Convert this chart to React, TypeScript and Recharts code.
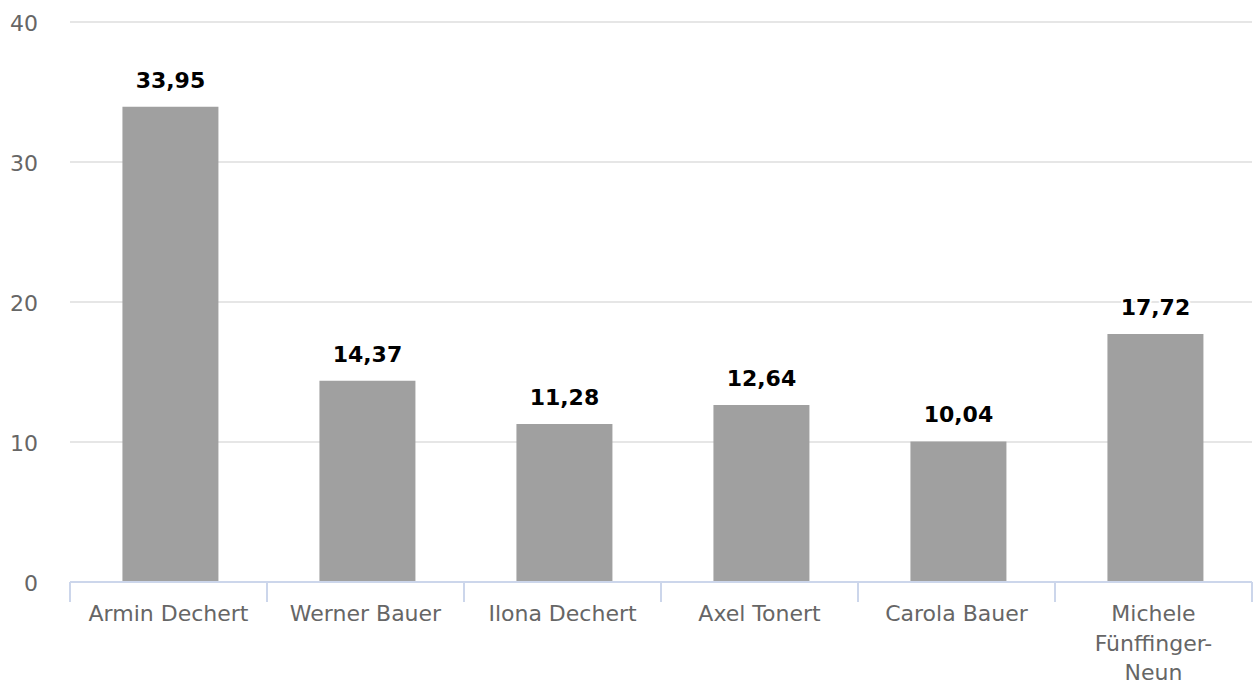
import { BarChart, Bar, XAxis, YAxis, CartesianGrid, LabelList, Rectangle } from "recharts";

const names = [
  "Armin Dechert",
  "Werner Bauer",
  "Ilona Dechert",
  "Axel Tonert",
  "Carola Bauer",
  "Michele Fünffinger-Neun",
];
const values = [33.95, 14.37, 11.28, 12.64, 10.04, 17.72];
const yTicks = [0, 10, 20, 30, 40];

const data = names.map((name, i) => ({ name, value: values[i] }));

const FONT = "'DejaVu Sans', Verdana, sans-serif";
const AXIS_COLOR = "#ccd6eb";
const BAR_NUDGE = 2; // bars sit a touch right of the band centre in the original

// break long category names on spaces and after hyphens
function wrapLabel(text: string, maxChars = 13) {
  const lines: string[] = [];
  let cur = "";
  text.split(" ").forEach((word) => {
    word.split(/(?<=-)/).forEach((piece, j) => {
      const joined = cur === "" ? piece : cur + (j === 0 ? " " : "") + piece;
      if (joined.length > maxChars && cur !== "") {
        lines.push(cur);
        cur = piece;
      } else {
        cur = joined;
      }
    });
  });
  if (cur) lines.push(cur);
  return lines;
}

const XTick = (props: any) => {
  const { x, y, payload, index, visibleTicksCount } = props;
  const half = payload?.offset ?? 98.5;
  const lines = wrapLabel(String(payload.value));
  return (
    <g>
      <line x1={x - half} x2={x - half} y1={y} y2={y + 20} stroke={AXIS_COLOR} strokeWidth={2} />
      {index === visibleTicksCount - 1 && (
        <line x1={x + half} x2={x + half} y1={y} y2={y + 20} stroke={AXIS_COLOR} strokeWidth={2} />
      )}
      <text x={x} y={y + 39} textAnchor="middle" fill="#666666" fontSize={22} fontFamily={FONT}>
        {lines.map((l, i) => (
          <tspan key={i} x={x} dy={i === 0 ? 0 : 29.5}>
            {l}
          </tspan>
        ))}
      </text>
    </g>
  );
};

const YTick = (props: any) => {
  const { x, y, payload } = props;
  return (
    <text x={x - 32} y={y + 9} textAnchor="end" fill="#666666" fontSize={22} fontFamily={FONT}>
      {payload.value}
    </text>
  );
};

const BarShape = (props: any) => <Rectangle {...props} x={props.x + BAR_NUDGE} />;

const ValueLabel = (props: any) => {
  const vb = props.viewBox ?? props;
  const x = vb.x ?? props.x;
  const y = vb.y ?? props.y;
  const width = vb.width ?? props.width;
  const text = Number(props.value).toFixed(2).replace(".", ",");
  return (
    <text
      x={x + width / 2 + BAR_NUDGE}
      y={y - 19}
      textAnchor="middle"
      fontFamily={FONT}
      fontSize={22}
      fontWeight="bold"
      fill="#000000"
      stroke="#ffffff"
      strokeWidth={4}
      strokeLinejoin="round"
      paintOrder="stroke"
    >
      {text}
    </text>
  );
};

export default function App() {
  return (
    <div style={{ width: 1253, height: 681, background: "#fff" }}>
      <style>{`body { margin: 0; }`}</style>
      <BarChart
        width={1253}
        height={681}
        data={data}
        margin={{ top: 22, right: 1, left: 0, bottom: 0 }}
        barCategoryGap="25.6%"
      >
        <CartesianGrid vertical={false} stroke="#e6e6e6" strokeWidth={2} />
        <XAxis
          dataKey="name"
          height={99}
          axisLine={{ stroke: AXIS_COLOR, strokeWidth: 2 }}
          tickLine={false}
          tickSize={0}
          tickMargin={0}
          interval={0}
          tick={<XTick />}
        />
        <YAxis
          width={70}
          domain={[0, 40]}
          ticks={yTicks}
          axisLine={false}
          tickLine={false}
          tickSize={0}
          tickMargin={0}
          tick={<YTick />}
        />
        <Bar dataKey="value" fill="#a0a0a0" shape={<BarShape />} isAnimationActive={false}>
          <LabelList dataKey="value" content={<ValueLabel />} />
        </Bar>
      </BarChart>
    </div>
  );
}
